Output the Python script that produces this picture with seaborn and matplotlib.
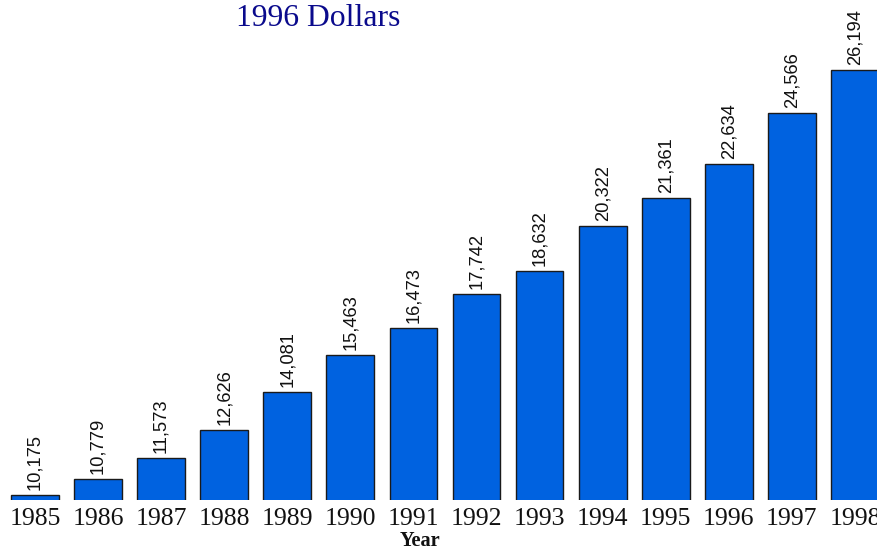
import numpy as np
import pandas as pd
import seaborn as sns
import matplotlib.pyplot as plt

years = ['1985', '1986', '1987', '1988', '1989', '1990', '1991',
         '1992', '1993', '1994', '1995', '1996', '1997', '1998']
values = [10175, 10779, 11573, 12626, 14081, 15463, 16473,
          17742, 18632, 20322, 21361, 22634, 24566, 26194]

df = pd.DataFrame({'Year': years, 'Dollars': values})

sns.set_style("white")
plt.rcParams['font.family'] = ['Liberation Serif', 'DejaVu Serif']

fig = plt.figure(figsize=(8.77, 5.5), dpi=100)
ax = fig.add_axes([3.35 / 877, 50 / 550, 883.2 / 877, 500 / 550])

sns.barplot(data=df, x='Year', y='Dollars', color='#0062E0', saturation=1,
            width=0.756, edgecolor='#1a1a1a', linewidth=1.0, ax=ax)

ax.set_ylim(10000, 28820)
ax.set_xlim(-0.5, len(years) - 0.5)
for s in ax.spines.values():
    s.set_visible(False)
ax.set_yticks([])
ax.set_ylabel('')
ax.tick_params(axis='x', length=0, pad=6, labelsize=18.5, colors='#111111')

for i, v in enumerate(values):
    ax.text(i, v + 190, f"{v:,}", rotation=90, ha='center', va='bottom',
            fontsize=13.2, family=['Liberation Sans', 'DejaVu Sans'], color='#111111')

ax.set_xlabel('Year', fontsize=14.7, fontweight='bold', color='#111111')
ax.xaxis.set_label_coords((420 - 3.35) / 883.2, -0.062)

fig.text(318 / 877, 1 - 19 / 550, '1996 Dollars', ha='center', va='center',
         fontsize=22.8, color='#0A0A8C')

fig.savefig('out.png', dpi=100)
